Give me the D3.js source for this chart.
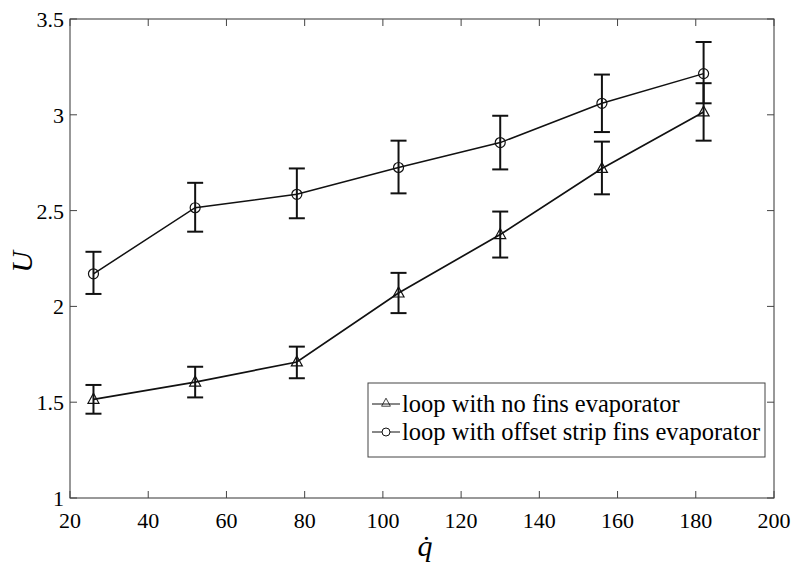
<!DOCTYPE html>
<html>
<head>
<meta charset="utf-8">
<script src="https://cdn.jsdelivr.net/npm/d3@7"></script>
<style>
  body { margin: 0; background: #fff; }
  svg text { font-family: "Times New Roman", "Liberation Serif", Times, "DejaVu Serif", serif; fill: #000; }
</style>
</head>
<body>
<svg width="795" height="566"></svg>
<script>
// heat flux values (x)
var qdot = [26, 52, 78, 104, 130, 156, 182];
// loop with no fins evaporator
var noFins = [1.515, 1.605, 1.71, 2.07, 2.375, 2.72, 3.015];
var noFinsHi = [1.59, 1.685, 1.79, 2.175, 2.495, 2.86, 3.165];
var noFinsLo = [1.44, 1.525, 1.625, 1.965, 2.255, 2.585, 2.865];
// loop with offset strip fins evaporator
var offset = [2.17, 2.515, 2.585, 2.725, 2.855, 3.06, 3.215];
var offsetHi = [2.285, 2.645, 2.72, 2.865, 2.995, 3.21, 3.38];
var offsetLo = [2.065, 2.39, 2.46, 2.59, 2.715, 2.91, 3.06];
var xTicks = [20, 40, 60, 80, 100, 120, 140, 160, 180, 200];
var yTicks = [1, 1.5, 2, 2.5, 3, 3.5];
var legendLabels = ["loop with no fins evaporator", "loop with offset strip fins evaporator"];

var svg = d3.select("svg"),
    margin = {top: 19, right: 21, bottom: 68, left: 70},
    width = 795 - margin.left - margin.right,
    height = 566 - margin.top - margin.bottom;

svg.attr("font-family", "'Times New Roman', 'Liberation Serif', serif");

var x = d3.scaleLinear().domain([20, 200]).range([0, width]),
    y = d3.scaleLinear().domain([1, 3.5]).range([height, 0]);

var g = svg.append("g")
    .attr("transform", "translate(" + margin.left + "," + margin.top + ")");

// frame
g.append("rect").attr("width", width).attr("height", height)
    .attr("fill", "none").attr("stroke", "#333").attr("stroke-width", 1);

var tickLen = 7;
// ticks on all four sides (matlab box style)
xTicks.forEach(function(t) {
    g.append("line").attr("x1", x(t)).attr("x2", x(t)).attr("y1", height).attr("y2", height - tickLen).attr("stroke", "#444");
    g.append("line").attr("x1", x(t)).attr("x2", x(t)).attr("y1", 0).attr("y2", tickLen).attr("stroke", "#444");
});
yTicks.forEach(function(t) {
    g.append("line").attr("x1", 0).attr("x2", tickLen).attr("y1", y(t)).attr("y2", y(t)).attr("stroke", "#444");
    g.append("line").attr("x1", width).attr("x2", width - tickLen).attr("y1", y(t)).attr("y2", y(t)).attr("stroke", "#444");
});

g.selectAll(".xlab").data(xTicks).enter().append("text")
    .attr("x", function(d) { return x(d); })
    .attr("y", height + 30)
    .attr("text-anchor", "middle")
    .attr("font-size", 22)
    .text(function(d) { return d; });

g.selectAll(".ylab").data(yTicks).enter().append("text")
    .attr("x", -6)
    .attr("y", function(d) { return y(d) + 8; })
    .attr("text-anchor", "end")
    .attr("font-size", 22)
    .text(function(d) { return d; });

// axis titles
svg.append("text")
    .attr("x", margin.left + width / 2 + 3)
    .attr("y", 556)
    .attr("text-anchor", "middle")
    .attr("font-size", 30)
    .attr("font-style", "italic")
    .text("q\u0307");

svg.append("text")
    .attr("transform", "translate(32,262) rotate(-90)")
    .attr("text-anchor", "middle")
    .attr("font-size", 30)
    .attr("font-style", "italic")
    .text("U");

var series = [
    {vals: noFins, hi: noFinsHi, lo: noFinsLo, marker: "tri", lw: 1.7},
    {vals: offset, hi: offsetHi, lo: offsetLo, marker: "circ", lw: 1.5}
];

var line = d3.line()
    .x(function(d) { return x(d[0]); })
    .y(function(d) { return y(d[1]); });

var triPath = "M0,-6L5.5,4L-5.5,4Z";

series.forEach(function(s) {
    var pts = qdot.map(function(q, i) { return [q, s.vals[i], s.hi[i], s.lo[i]]; });

    g.append("path").datum(pts)
        .attr("d", line)
        .attr("fill", "none")
        .attr("stroke", "#111")
        .attr("stroke-width", s.lw);

    // error bars
    var eb = g.selectAll(null).data(pts).enter().append("g");
    eb.append("line")
        .attr("x1", function(d) { return x(d[0]); })
        .attr("x2", function(d) { return x(d[0]); })
        .attr("y1", function(d) { return y(d[2]); })
        .attr("y2", function(d) { return y(d[3]); })
        .attr("stroke", "#111").attr("stroke-width", 2);
    eb.append("line")
        .attr("x1", function(d) { return x(d[0]) - 8; })
        .attr("x2", function(d) { return x(d[0]) + 8; })
        .attr("y1", function(d) { return y(d[2]); })
        .attr("y2", function(d) { return y(d[2]); })
        .attr("stroke", "#111").attr("stroke-width", 2);
    eb.append("line")
        .attr("x1", function(d) { return x(d[0]) - 8; })
        .attr("x2", function(d) { return x(d[0]) + 8; })
        .attr("y1", function(d) { return y(d[3]); })
        .attr("y2", function(d) { return y(d[3]); })
        .attr("stroke", "#111").attr("stroke-width", 2);

    if (s.marker === "tri") {
        g.selectAll(null).data(pts).enter().append("path")
            .attr("d", triPath)
            .attr("transform", function(d) { return "translate(" + x(d[0]) + "," + y(d[1]) + ")"; })
            .attr("fill", "none").attr("stroke", "#111").attr("stroke-width", 1.2);
    } else {
        g.selectAll(null).data(pts).enter().append("circle")
            .attr("cx", function(d) { return x(d[0]); })
            .attr("cy", function(d) { return y(d[1]); })
            .attr("r", 5)
            .attr("fill", "none").attr("stroke", "#111").attr("stroke-width", 1.2);
    }
});

// legend
var lg = svg.append("g").attr("transform", "translate(368,383)");
lg.append("rect").attr("width", 397).attr("height", 74)
    .attr("fill", "#fff").attr("stroke", "#444").attr("stroke-width", 1);
legendLabels.forEach(function(lab, i) {
    var ly = 21 + i * 28;
    lg.append("line").attr("x1", 4).attr("x2", 32).attr("y1", ly).attr("y2", ly)
        .attr("stroke", "#111").attr("stroke-width", 1);
    if (i === 0) {
        lg.append("path").attr("d", triPath).attr("transform", "translate(18," + (ly - 1) + ") scale(0.8)")
            .attr("fill", "none").attr("stroke", "#111");
    } else {
        lg.append("circle").attr("cx", 18).attr("cy", ly).attr("r", 4)
            .attr("fill", "#fff").attr("stroke", "#111");
    }
    lg.append("text").attr("x", 34).attr("y", ly + 8)
        .attr("font-size", 24.5)
        .text(lab);
});
</script>
</body>
</html>
